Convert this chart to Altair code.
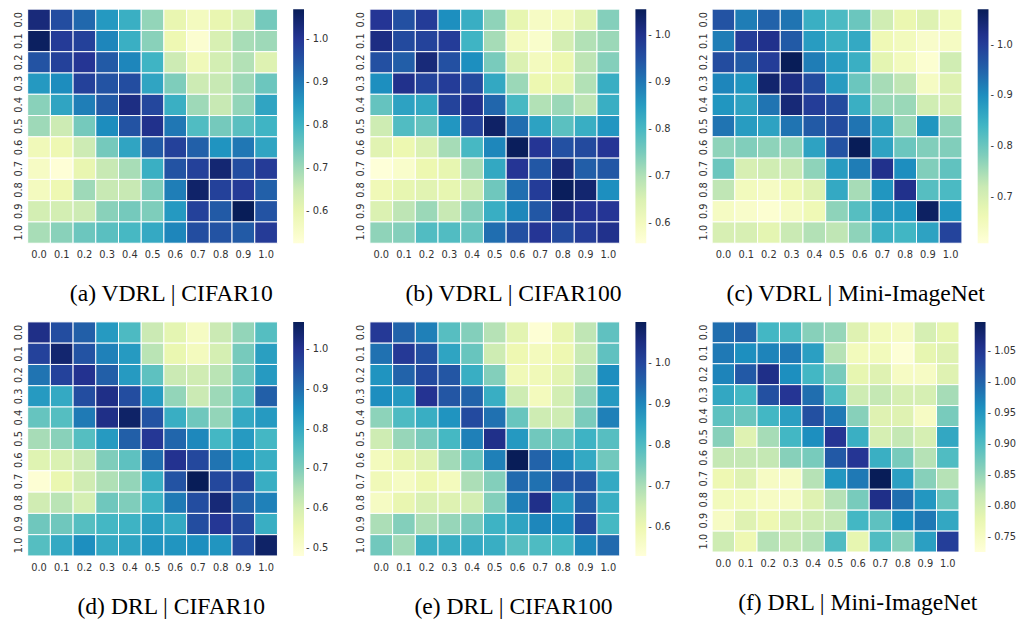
import altair as alt
import pandas as pd

tick_labels = ["0.0", "0.1", "0.2", "0.3", "0.4", "0.5", "0.6", "0.7", "0.8", "0.9", "1.0"]

vdrl_cifar10 = [
    [1.03, 0.96, 0.92, 0.85, 0.81, 0.71, 0.60, 0.57, 0.60, 0.63, 0.74],
    [1.06, 0.99, 0.98, 0.88, 0.81, 0.72, 0.59, 0.54, 0.63, 0.69, 0.70],
    [0.95, 0.98, 1.00, 0.94, 0.88, 0.80, 0.65, 0.58, 0.64, 0.68, 0.62],
    [0.85, 0.87, 0.98, 0.95, 0.96, 0.83, 0.73, 0.65, 0.66, 0.70, 0.75],
    [0.72, 0.83, 0.89, 0.94, 1.02, 0.97, 0.81, 0.70, 0.66, 0.71, 0.83],
    [0.70, 0.65, 0.74, 0.87, 0.95, 1.01, 0.90, 0.78, 0.74, 0.77, 0.80],
    [0.58, 0.59, 0.65, 0.74, 0.83, 0.94, 0.98, 0.93, 0.86, 0.90, 0.83],
    [0.56, 0.53, 0.60, 0.66, 0.69, 0.81, 0.95, 0.98, 1.04, 0.96, 0.99],
    [0.57, 0.59, 0.70, 0.66, 0.66, 0.73, 0.89, 1.05, 0.98, 0.99, 0.93],
    [0.64, 0.64, 0.65, 0.72, 0.74, 0.73, 0.85, 0.98, 0.94, 1.07, 0.95],
    [0.69, 0.72, 0.75, 0.77, 0.79, 0.82, 0.88, 0.96, 0.95, 0.94, 0.99],
]

vdrl_cifar100 = [
    [0.99, 0.95, 0.98, 0.87, 0.82, 0.73, 0.63, 0.59, 0.60, 0.64, 0.74],
    [1.01, 0.96, 0.97, 0.98, 0.81, 0.71, 0.60, 0.58, 0.66, 0.70, 0.72],
    [0.95, 0.93, 1.02, 0.95, 0.87, 0.75, 0.65, 0.60, 0.62, 0.69, 0.74],
    [0.87, 1.00, 0.97, 0.98, 0.96, 0.83, 0.72, 0.62, 0.63, 0.70, 0.82],
    [0.77, 0.84, 0.83, 0.97, 1.00, 0.92, 0.80, 0.70, 0.72, 0.69, 0.82],
    [0.67, 0.79, 0.77, 0.86, 0.97, 1.04, 0.91, 0.84, 0.78, 0.82, 0.86],
    [0.64, 0.62, 0.65, 0.71, 0.80, 0.88, 1.05, 0.99, 0.95, 0.96, 0.99],
    [0.56, 0.58, 0.62, 0.63, 0.71, 0.83, 0.99, 0.94, 1.02, 0.93, 0.94],
    [0.61, 0.63, 0.64, 0.63, 0.67, 0.76, 0.91, 0.98, 1.05, 1.03, 0.87],
    [0.65, 0.69, 0.72, 0.68, 0.74, 0.82, 0.88, 0.94, 1.01, 0.99, 0.99],
    [0.73, 0.74, 0.79, 0.79, 0.77, 0.91, 0.95, 0.99, 0.96, 0.98, 1.00],
]

vdrl_mini = [
    [0.97, 0.92, 0.95, 0.93, 0.85, 0.83, 0.80, 0.71, 0.67, 0.69, 0.65],
    [0.92, 1.00, 1.02, 0.96, 0.88, 0.85, 0.86, 0.66, 0.65, 0.63, 0.64],
    [0.98, 0.96, 1.00, 1.07, 0.92, 0.88, 0.85, 0.68, 0.65, 0.62, 0.71],
    [0.91, 0.89, 1.05, 1.03, 0.98, 0.88, 0.80, 0.75, 0.73, 0.64, 0.69],
    [0.89, 0.87, 0.93, 1.04, 1.00, 0.98, 0.85, 0.76, 0.76, 0.71, 0.70],
    [0.93, 0.88, 0.87, 0.93, 0.96, 0.98, 0.93, 0.87, 0.76, 0.89, 0.77],
    [0.77, 0.78, 0.77, 0.77, 0.87, 0.97, 1.07, 0.87, 0.80, 0.78, 0.78],
    [0.80, 0.70, 0.71, 0.72, 0.77, 0.88, 0.92, 1.02, 0.90, 0.78, 0.81],
    [0.73, 0.65, 0.64, 0.66, 0.69, 0.86, 0.75, 0.89, 1.02, 0.82, 0.83],
    [0.64, 0.63, 0.62, 0.64, 0.66, 0.77, 0.82, 0.88, 0.89, 1.06, 0.89],
    [0.70, 0.70, 0.68, 0.72, 0.74, 0.73, 0.77, 0.85, 0.84, 0.87, 0.99],
]

drl_cifar10 = [
    [1.01, 0.95, 0.92, 0.83, 0.76, 0.62, 0.57, 0.52, 0.62, 0.68, 0.75],
    [0.97, 1.04, 0.94, 0.87, 0.83, 0.64, 0.56, 0.53, 0.60, 0.71, 0.82],
    [0.89, 0.97, 1.00, 0.92, 0.83, 0.74, 0.62, 0.61, 0.64, 0.72, 0.83],
    [0.83, 0.80, 0.95, 1.01, 0.95, 0.83, 0.68, 0.62, 0.67, 0.74, 0.92],
    [0.73, 0.75, 0.88, 1.01, 1.05, 0.94, 0.79, 0.72, 0.68, 0.80, 0.83],
    [0.66, 0.69, 0.75, 0.83, 0.92, 0.99, 0.91, 0.86, 0.77, 0.83, 0.77],
    [0.58, 0.59, 0.62, 0.70, 0.74, 0.90, 1.00, 0.96, 0.89, 0.84, 0.79],
    [0.49, 0.56, 0.61, 0.65, 0.68, 0.79, 0.94, 1.07, 0.96, 0.96, 0.79],
    [0.61, 0.64, 0.60, 0.72, 0.70, 0.78, 0.88, 0.95, 1.03, 0.92, 0.87],
    [0.72, 0.72, 0.75, 0.77, 0.78, 0.82, 0.80, 0.95, 0.99, 0.96, 0.79],
    [0.75, 0.80, 0.85, 0.80, 0.81, 0.84, 0.84, 0.85, 0.84, 0.96, 1.05],
]

drl_cifar100 = [
    [1.02, 0.95, 0.91, 0.79, 0.74, 0.69, 0.62, 0.54, 0.61, 0.68, 0.78],
    [0.93, 1.02, 0.98, 0.85, 0.77, 0.66, 0.60, 0.58, 0.60, 0.67, 0.78],
    [0.88, 0.95, 0.99, 0.97, 0.83, 0.74, 0.59, 0.59, 0.62, 0.69, 0.89],
    [0.89, 0.87, 1.03, 0.97, 0.95, 0.83, 0.66, 0.58, 0.65, 0.72, 0.87],
    [0.73, 0.80, 0.83, 0.88, 0.99, 0.93, 0.77, 0.66, 0.66, 0.75, 0.91],
    [0.66, 0.72, 0.75, 0.81, 0.91, 1.04, 0.87, 0.76, 0.77, 0.82, 0.79],
    [0.58, 0.61, 0.63, 0.71, 0.77, 0.91, 1.10, 0.95, 0.90, 0.84, 0.76],
    [0.59, 0.57, 0.60, 0.58, 0.70, 0.74, 0.94, 0.93, 0.97, 0.97, 0.84],
    [0.57, 0.61, 0.64, 0.63, 0.65, 0.74, 0.91, 1.04, 0.86, 0.96, 0.83],
    [0.70, 0.74, 0.70, 0.72, 0.75, 0.82, 0.85, 0.90, 0.89, 0.99, 0.81],
    [0.76, 0.71, 0.83, 0.83, 0.84, 0.83, 0.79, 0.80, 0.81, 0.90, 0.94],
]

drl_mini = [
    [0.99, 1.00, 0.91, 0.90, 0.86, 0.85, 0.79, 0.76, 0.75, 0.80, 0.78],
    [0.98, 0.96, 0.97, 0.98, 0.94, 0.83, 0.76, 0.76, 0.73, 0.78, 0.79],
    [0.97, 1.01, 1.06, 0.96, 0.91, 0.87, 0.78, 0.79, 0.75, 0.75, 0.79],
    [0.93, 0.91, 1.02, 1.05, 0.99, 0.90, 0.81, 0.82, 0.80, 0.80, 0.84],
    [0.89, 0.88, 0.91, 0.94, 1.02, 0.98, 0.86, 0.79, 0.79, 0.75, 0.87],
    [0.86, 0.79, 0.84, 0.91, 0.96, 1.05, 0.92, 0.80, 0.82, 0.80, 0.93],
    [0.82, 0.82, 0.82, 0.86, 0.87, 1.01, 1.05, 0.92, 0.87, 0.83, 0.90],
    [0.77, 0.79, 0.75, 0.75, 0.83, 0.95, 0.98, 1.10, 0.94, 0.86, 0.83],
    [0.76, 0.76, 0.75, 0.75, 0.79, 0.83, 0.87, 1.06, 0.99, 0.95, 0.88],
    [0.75, 0.79, 0.77, 0.80, 0.81, 0.82, 0.91, 0.89, 0.96, 0.98, 0.93],
    [0.81, 0.77, 0.83, 0.82, 0.83, 0.90, 0.78, 0.90, 0.86, 0.94, 1.04],
]

captions = [
    "(a) VDRL | CIFAR10", "(b) VDRL | CIFAR100", "(c) VDRL | Mini-ImageNet",
    "(d) DRL | CIFAR10", "(e) DRL | CIFAR100", "(f) DRL | Mini-ImageNet",
]
color_domains = [
    [0.525, 1.069], [0.558, 1.054], [0.609, 1.070],
    [0.480, 1.068], [0.531, 1.099], [0.726, 1.097],
]
colorbar_ticks = [
    [0.6, 0.7, 0.8, 0.9, 1.0],
    [0.6, 0.7, 0.8, 0.9, 1.0],
    [0.7, 0.8, 0.9, 1.0],
    [0.5, 0.6, 0.7, 0.8, 0.9, 1.0],
    [0.6, 0.7, 0.8, 0.9, 1.0],
    [0.75, 0.80, 0.85, 0.90, 0.95, 1.00, 1.05],
]
colorbar_formats = [".1f", ".1f", ".1f", ".1f", ".1f", ".2f"]
grids = [vdrl_cifar10, vdrl_cifar100, vdrl_mini, drl_cifar10, drl_cifar100, drl_mini]

# ColorBrewer YlGnBu (as used by seaborn/matplotlib), linearly interpolated
ylgnbu = ["#ffffd9", "#edf8b1", "#c7e9b4", "#7fcdbb", "#41b6c4",
          "#1d91c0", "#225ea8", "#253494", "#081d58"]


def panel(grid, caption, domain, lvals, fmt, w=254, h=238):
    recs = []
    for i, r in enumerate(tick_labels):
        for j, c in enumerate(tick_labels):
            recs.append({"row": r, "col": c, "value": grid[i][j]})
    df = pd.DataFrame(recs)
    lo, hi = domain
    n = len(ylgnbu) - 1
    stops = [lo + (hi - lo) * k / n for k in range(n + 1)]
    return alt.Chart(df).mark_rect(stroke="white", strokeWidth=1).encode(
        x=alt.X("col:O", sort=tick_labels, title=None,
                axis=alt.Axis(labelAngle=0, ticks=False, tickSize=0, domain=False,
                              labelPadding=7)),
        y=alt.Y("row:O", sort=tick_labels, title=None,
                axis=alt.Axis(labelAngle=270, ticks=False, tickSize=0, domain=False,
                              labelPadding=4)),
        color=alt.Color("value:Q",
                        scale=alt.Scale(type="linear", domain=stops, range=ylgnbu,
                                        interpolate="rgb", clamp=True),
                        legend=alt.Legend(values=lvals, format=fmt, title=None,
                                          gradientLength=h,
                                          labelExpr="'- ' + datum.label")),
    ).properties(
        width=w, height=h,
        title=alt.TitleParams(caption, orient="bottom", anchor="middle", frame="bounds",
                              font="Liberation Serif", fontSize=24, fontWeight="normal",
                              color="black", baseline="top", offset=23),
    )


panels = []
for k in range(6):
    w, h = (251, 234) if k == 5 else (254, 238)
    panels.append(panel(grids[k], captions[k], color_domains[k], colorbar_ticks[k],
                        colorbar_formats[k], w, h))

row1 = alt.hconcat(*panels[:3], spacing=27).resolve_scale(color="independent").resolve_legend(color="independent")
row2 = alt.hconcat(*panels[3:], spacing=27).resolve_scale(color="independent").resolve_legend(color="independent")

chart = alt.vconcat(row1, row2, spacing=15).resolve_scale(
    color="independent").resolve_legend(color="independent").properties(
    padding={"left": 5, "top": -5, "right": 0, "bottom": 0}
).configure_view(stroke=None).configure_axis(
    labelFont="DejaVu Sans", labelFontSize=10, labelColor="#333333"
).configure_legend(
    orient="right", offset=16, padding=0, gradientThickness=11, gradientStrokeWidth=0,
    labelOffset=2, labelOverlap=False, labelFont="DejaVu Sans", labelFontSize=10,
    labelColor="#333333"
)

chart.save("out.html", embed_options={"renderer": "svg", "actions": False})
